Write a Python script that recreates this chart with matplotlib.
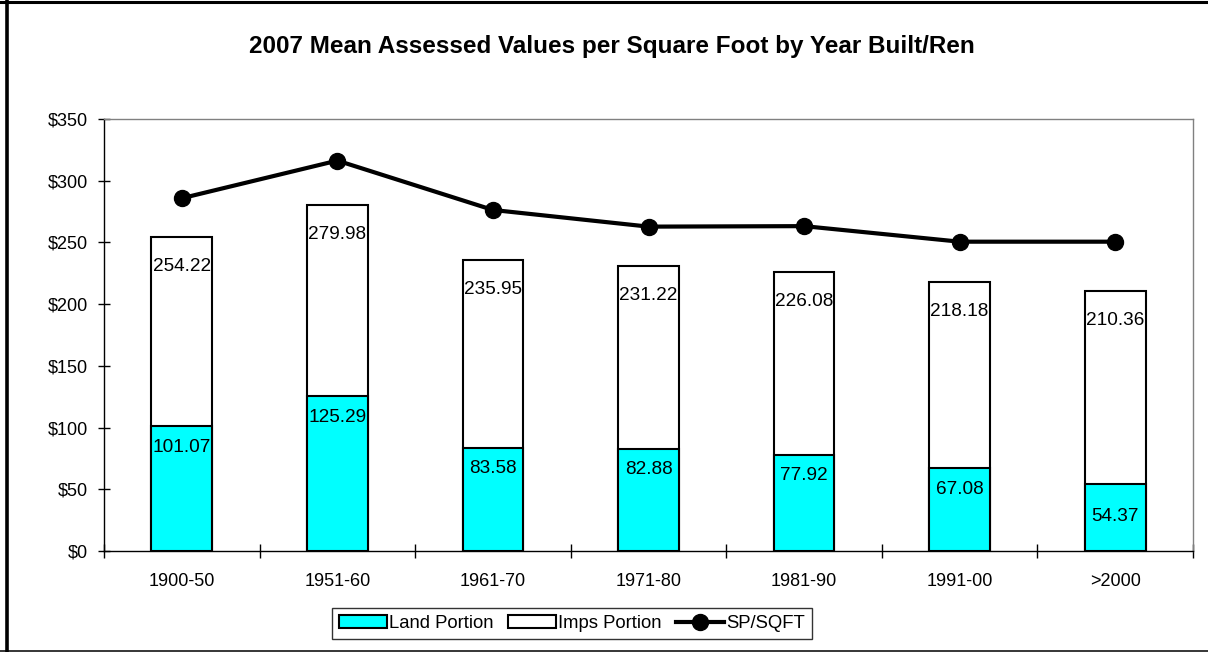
import numpy as np
import matplotlib.pyplot as plt
from matplotlib.patches import Patch
from matplotlib.lines import Line2D
from matplotlib.ticker import FuncFormatter, FixedLocator

plt.rcParams['font.family'] = ['Liberation Sans', 'DejaVu Sans']

# Data
periods = ['1900-50', '1951-60', '1961-70', '1971-80', '1981-90', '1991-00', '>2000']
land = [101.07, 125.29, 83.58, 82.88, 77.92, 67.08, 54.37]
total = [254.22, 279.98, 235.95, 231.22, 226.08, 218.18, 210.36]   # land + imps
sp_sqft = [285.8, 316.3, 276.3, 262.8, 263.2, 250.6, 250.6]

x = np.arange(len(periods))
w = 0.39

fig = plt.figure(figsize=(12.08, 6.52), dpi=100)
ax = fig.add_axes([104 / 1208, 1 - 551 / 652, 1089 / 1208, 432 / 652])

# Imps portion drawn full height behind, land portion in front
ax.bar(x, total, w, color='white', edgecolor='black', linewidth=1.5, zorder=2)
ax.bar(x, land, w, color='#00FFFF', edgecolor='black', linewidth=1.5, zorder=3)
ax.plot(x, sp_sqft, color='black', lw=3, marker='o', ms=11.5, zorder=4)

for i in range(len(x)):
    ax.annotate(f'{total[i]:.2f}', (x[i], total[i]), xytext=(0, -21.2),
                textcoords='offset points', ha='center', va='center', fontsize=13.7, zorder=5)
    off = -23.8 if i == len(x) - 1 else -15
    ax.annotate(f'{land[i]:.2f}', (x[i], land[i]), xytext=(0, off),
                textcoords='offset points', ha='center', va='center', fontsize=13.7, zorder=5)

ax.set_xlim(-0.5, len(x) - 0.5)
ax.set_ylim(0, 350)
ax.set_yticks(np.arange(0, 351, 50))
ax.yaxis.set_major_formatter(FuncFormatter(lambda v, p: f'${v:.0f}'))

# ticks between categories, labels at centres
ax.xaxis.set_major_locator(FixedLocator(np.arange(-0.5, len(x), 1)))
ax.xaxis.set_minor_locator(FixedLocator(x))
ax.set_xticklabels([])
ax.set_xticklabels(periods, minor=True)
ax.tick_params(axis='x', which='major', direction='inout', length=10, width=1)
ax.tick_params(axis='x', which='minor', length=0, pad=16, labelsize=13)
ax.tick_params(axis='y', direction='inout', length=9, width=1, pad=7, labelsize=13)

for s in ['top', 'right']:
    ax.spines[s].set_color('#808080')
    ax.spines[s].set_linewidth(1)
for s in ['left', 'bottom']:
    ax.spines[s].set_color('black')
    ax.spines[s].set_linewidth(1)

fig.text(612 / 1208, 1 - 46 / 652, '2007 Mean Assessed Values per Square Foot by Year Built/Ren',
         ha='center', va='center', fontsize=17.5, fontweight='bold')

handles = [Patch(facecolor='#00FFFF', edgecolor='black', linewidth=1.5),
           Patch(facecolor='white', edgecolor='black', linewidth=1.5),
           Line2D([], [], color='black', lw=3, marker='o', ms=11.5)]
leg = fig.legend(handles, ['Land Portion', 'Imps Portion', 'SP/SQFT'], loc='center',
                 bbox_to_anchor=(572 / 1208, 1 - 623.5 / 652), ncol=3, fontsize=13.3,
                 frameon=True, fancybox=False, handlelength=2.6, handletextpad=0.1,
                 columnspacing=0.8, borderpad=0.4)
leg.get_frame().set_edgecolor('black')
leg.get_frame().set_linewidth(1)

# outer chart frame
fig.add_artist(Line2D([6.5 / 1208, 6.5 / 1208], [0, 1], color='black', lw=2.6, transform=fig.transFigure))
fig.add_artist(Line2D([0, 1], [1 - 1.5 / 652, 1 - 1.5 / 652], color='black', lw=2.2, transform=fig.transFigure))
fig.add_artist(Line2D([0, 1], [1 - 650.5 / 652, 1 - 650.5 / 652], color='black', lw=1.1, transform=fig.transFigure))

fig.savefig('out.png', dpi=100)
